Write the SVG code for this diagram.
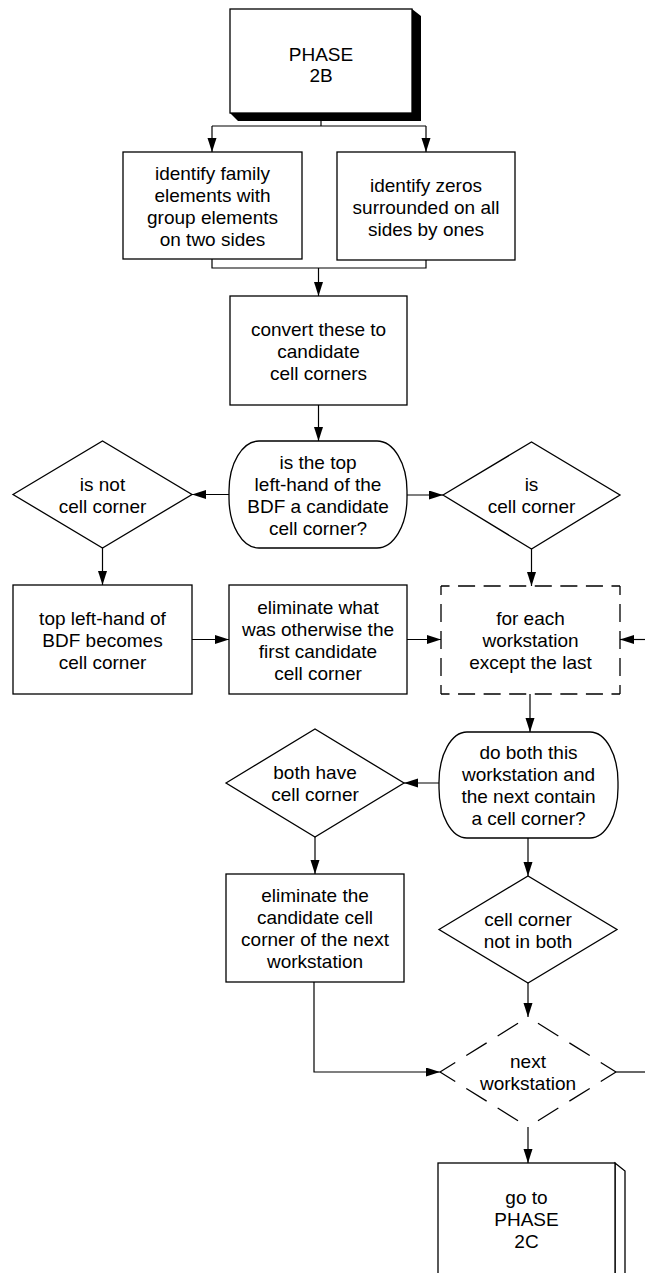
<svg xmlns="http://www.w3.org/2000/svg" width="645" height="1273" viewBox="0 0 645 1273">
  <defs>
    <marker id="arrow" markerUnits="userSpaceOnUse" markerWidth="15" markerHeight="10" refX="14" refY="4.5" orient="auto">
      <path d="M0,0 L14,4.5 L0,9 z" fill="#000"/>
    </marker>
    <style>
      .t { font-family: "Liberation Sans", Arial, Helvetica, sans-serif; font-size: 19px; text-anchor: middle; fill: #000; }
      .box { fill: #fff; stroke: #000; stroke-width: 1.3; }
      .conn { fill: none; stroke: #000; stroke-width: 1.2; }
      .arr { marker-end: url(#arrow); }
      .dline { fill: none; stroke: #000; stroke-width: 1.3; stroke-dasharray: 18 9; stroke-dashoffset: 9; }
      .ddiag { fill: none; stroke: #000; stroke-width: 1.3; stroke-dasharray: 18 13 24 13 24 40; }
    </style>
  </defs>
  <rect width="645" height="1273" fill="#fff"/>

  <!-- start block with solid extrusion -->
  <g id="phase2b">
    <polygon points="412,9 421,16 421,121 238,121 230,113 412,113" fill="#000"/>
    <rect class="box" x="230" y="9" width="182" height="104"/>
    <text class="t" x="321" y="61">PHASE</text>
    <text class="t" x="321" y="82">2B</text>
  </g>

  <g id="identify-family">
    <rect class="box" x="123" y="152" width="179" height="107"/>
    <text class="t" x="212.5" y="179.5">identify family</text>
    <text class="t" x="212.5" y="201.5">elements with</text>
    <text class="t" x="212.5" y="223.5">group elements</text>
    <text class="t" x="212.5" y="245.5">on two sides</text>
  </g>

  <g id="identify-zeros">
    <rect class="box" x="337" y="152" width="178" height="108"/>
    <text class="t" x="426" y="192">identify zeros</text>
    <text class="t" x="426" y="214">surrounded on all</text>
    <text class="t" x="426" y="236">sides by ones</text>
  </g>

  <g id="convert">
    <rect class="box" x="230" y="296" width="177" height="109"/>
    <text class="t" x="318.5" y="335.5">convert these to</text>
    <text class="t" x="318.5" y="357.5">candidate</text>
    <text class="t" x="318.5" y="379.5">cell corners</text>
  </g>

  <g id="test-top-left">
    <rect class="box" x="229" y="441" width="178" height="107" rx="30" ry="50"/>
    <text class="t" x="318" y="468.5">is the top</text>
    <text class="t" x="318" y="490.5">left-hand of the</text>
    <text class="t" x="318" y="512.5">BDF a candidate</text>
    <text class="t" x="318" y="534.5">cell corner?</text>
  </g>

  <g id="is-not-corner">
    <polygon class="box" points="13,494.5 102.5,441 192,494.5 102.5,548"/>
    <text class="t" x="102.5" y="490.5">is not</text>
    <text class="t" x="102.5" y="512.5">cell corner</text>
  </g>

  <g id="is-corner">
    <polygon class="box" points="443,495 531.5,442 620,495 531.5,549"/>
    <text class="t" x="531.5" y="490.5">is</text>
    <text class="t" x="531.5" y="512.5">cell corner</text>
  </g>

  <g id="top-left-becomes-corner">
    <rect class="box" x="13" y="585" width="179" height="109"/>
    <text class="t" x="102.5" y="624.5">top left-hand of</text>
    <text class="t" x="102.5" y="646.5">BDF becomes</text>
    <text class="t" x="102.5" y="668.5">cell corner</text>
  </g>

  <g id="eliminate-first">
    <rect class="box" x="229" y="585" width="178" height="109"/>
    <text class="t" x="318" y="613.5">eliminate what</text>
    <text class="t" x="318" y="635.5">was otherwise the</text>
    <text class="t" x="318" y="657.5">first candidate</text>
    <text class="t" x="318" y="679.5">cell corner</text>
  </g>

  <!-- loop header drawn with dashed sides -->
  <g id="for-each-workstation">
    <rect x="441" y="586" width="179" height="108" fill="#fff"/>
    <path class="dline" d="M441,586 H620" pathLength="189"/>
    <path class="dline" d="M441,694 H620" pathLength="189"/>
    <path class="dline" d="M441,586 V694" pathLength="108"/>
    <path class="dline" d="M620,586 V694" pathLength="108"/>
    <text class="t" x="530.5" y="624.5">for each</text>
    <text class="t" x="530.5" y="646.5">workstation</text>
    <text class="t" x="530.5" y="668.5">except the last</text>
  </g>

  <g id="test-both">
    <rect class="box" x="439" y="732" width="179" height="106" rx="28" ry="50"/>
    <text class="t" x="528.5" y="759">do both this</text>
    <text class="t" x="528.5" y="781">workstation and</text>
    <text class="t" x="528.5" y="803">the next contain</text>
    <text class="t" x="528.5" y="825">a cell corner?</text>
  </g>

  <g id="both-have-corner">
    <polygon class="box" points="226,783 315,729 404,783 315,837"/>
    <text class="t" x="315" y="779">both have</text>
    <text class="t" x="315" y="801">cell corner</text>
  </g>

  <g id="eliminate-next">
    <rect class="box" x="226" y="874" width="178" height="108"/>
    <text class="t" x="315" y="902">eliminate the</text>
    <text class="t" x="315" y="924">candidate cell</text>
    <text class="t" x="315" y="946">corner of the next</text>
    <text class="t" x="315" y="968">workstation</text>
  </g>

  <g id="corner-not-in-both">
    <polygon class="box" points="439,929.5 528,876 617,929.5 528,983"/>
    <text class="t" x="528" y="925.5">cell corner</text>
    <text class="t" x="528" y="947.5">not in both</text>
  </g>

  <!-- loop end drawn with dashed sides, each side dashed from its outer corner -->
  <g id="next-workstation">
    <polygon points="440,1072 528,1017 616,1072 528,1127" fill="#fff"/>
    <path class="ddiag" d="M440,1072 L528,1017"/>
    <path class="ddiag" d="M440,1072 L528,1127"/>
    <path class="ddiag" d="M616,1072 L528,1017"/>
    <path class="ddiag" d="M616,1072 L528,1127"/>
    <text class="t" x="528" y="1068">next</text>
    <text class="t" x="528" y="1090">workstation</text>
  </g>

  <g id="phase2c">
    <polygon class="box" points="615,1163 625,1171 625,1285 615,1285"/>
    <rect class="box" x="438" y="1163" width="177" height="122"/>
    <text class="t" x="526.5" y="1204">go to</text>
    <text class="t" x="526.5" y="1226">PHASE</text>
    <text class="t" x="526.5" y="1248">2C</text>
  </g>

  <g id="connectors">
    <path class="conn" d="M321,121 V126"/>
    <path class="conn" d="M212,126 H426"/>
    <path class="conn arr" d="M212,126 V152"/>
    <path class="conn arr" d="M426,126 V152"/>
    <path class="conn" d="M212,259 V268 H426 V260"/>
    <path class="conn arr" d="M318.5,268 V296"/>
    <path class="conn arr" d="M318.5,405 V441"/>
    <path class="conn arr" d="M229,494.5 H192"/>
    <path class="conn arr" d="M407,495 H443"/>
    <path class="conn arr" d="M102.5,548 V585"/>
    <path class="conn arr" d="M531.5,549 V586"/>
    <path class="conn arr" d="M192,639.5 H229"/>
    <path class="conn arr" d="M407,639.5 H441"/>
    <path class="conn arr" d="M645,639.5 H620"/>
    <path class="conn arr" d="M530,694 V732"/>
    <path class="conn arr" d="M439,783 H404"/>
    <path class="conn arr" d="M315,837 V874"/>
    <path class="conn arr" d="M528,838 V876"/>
    <path class="conn arr" d="M528,983 V1017"/>
    <path class="conn arr" d="M314,982 V1072 H440"/>
    <path class="conn" d="M616,1072 H645"/>
    <path class="conn arr" d="M528,1127 V1163"/>
  </g>
</svg>
